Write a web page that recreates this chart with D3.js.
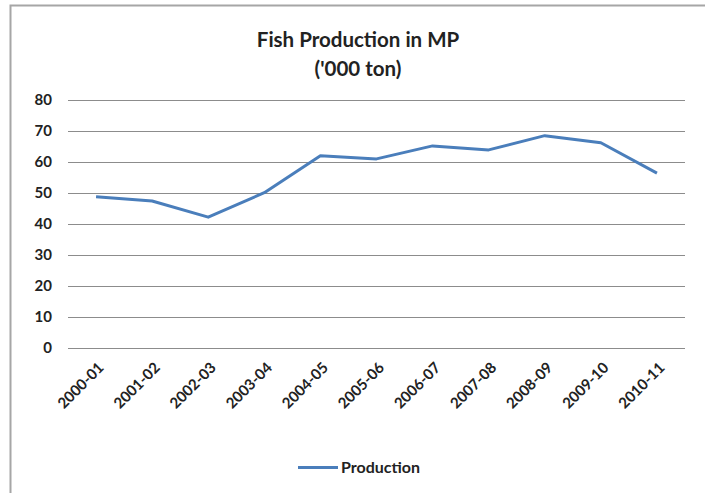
<html>
<head>
<script src='https://d3js.org/d3.v7.min.js'></script>
<style>
  body { margin: 0; background: #fff; }
  text { font-family: Lato, 'Open Sans', sans-serif; fill: #222; }
</style>
</head>
<body>
<svg width=705 height=493 id="chart"></svg>
<script>

// data
var years = ["2000-01","2001-02","2002-03","2003-04","2004-05","2005-06",
             "2006-07","2007-08","2008-09","2009-10","2010-11"];
var production = [48.8, 47.4, 42.2, 50.1, 62.0, 61.0, 65.2, 63.9, 68.5, 66.2, 56.4];
var yTicks = [0, 10, 20, 30, 40, 50, 60, 70, 80];
var seriesName = "Production";

var plotLeft = 68, plotRight = 685, plotTop = 100, plotBottom = 348;

var svg = d3.select("#chart");

// outer chart border (top + left only visible)
svg.append("path")
  .attr("d", "M10.5,493 L10.5,5.5 L705,5.5")
  .attr("fill", "none")
  .attr("stroke", "#a6a6a6")
  .attr("stroke-width", 2);

var x = d3.scaleBand().domain(years).range([plotLeft, plotRight]);
var y = d3.scaleLinear().domain([0, 80]).range([plotBottom, plotTop]);

// gridlines
svg.append("g")
  .selectAll("line")
  .data(yTicks)
  .enter()
  .append("line")
  .attr("x1", plotLeft)
  .attr("x2", plotRight)
  .attr("y1", function(d) { return Math.round(y(d)) + 0.5; })
  .attr("y2", function(d) { return Math.round(y(d)) + 0.5; })
  .attr("stroke", "#8c8c8c")
  .attr("stroke-width", 1);

// y axis labels
var yAxis = svg.append("g")
  .attr("transform", "translate(" + (plotLeft - 16) + ",0)")
  .call(d3.axisLeft(y).tickValues(yTicks).tickSize(0).tickPadding(0));
yAxis.select(".domain").remove();
yAxis.selectAll("text")
  .style("font-family", "Lato, sans-serif")
  .style("font-size", "15px")
  .style("font-weight", "bold")
  .attr("fill", "#222");

// x axis labels, rotated
var xAxis = svg.append("g")
  .attr("transform", "translate(0," + plotBottom + ")")
  .call(d3.axisBottom(x).tickSize(0).tickPadding(0));
xAxis.select(".domain").remove();
xAxis.selectAll("text")
  .style("font-family", "Lato, sans-serif")
  .style("font-size", "15px")
  .style("font-weight", "bold")
  .attr("fill", "#222")
  .attr("text-anchor", "end")
  .attr("dy", "0.35em")
  .attr("transform", "translate(5,17) rotate(-45)");

// the line
var line = d3.line()
  .x(function(d, i) { return x(years[i]) + x.bandwidth() / 2; })
  .y(function(d) { return y(d); });

svg.append("path")
  .datum(production)
  .attr("d", line)
  .attr("fill", "none")
  .attr("stroke", "#4a7ebb")
  .attr("stroke-width", 3)
  .attr("stroke-linejoin", "round");

// title
svg.append("text")
  .attr("x", 358).attr("y", 47)
  .attr("text-anchor", "middle")
  .style("font-size", "20.5px")
  .style("font-weight", "bold")
  .text("Fish Production in MP");
svg.append("text")
  .attr("x", 358).attr("y", 76)
  .attr("text-anchor", "middle")
  .style("font-size", "20.5px")
  .style("font-weight", "bold")
  .text("('000 ton)");

// legend
svg.append("line")
  .attr("x1", 298).attr("x2", 338)
  .attr("y1", 467.5).attr("y2", 467.5)
  .attr("stroke", "#4a7ebb")
  .attr("stroke-width", 3);
svg.append("text")
  .attr("x", 341).attr("y", 473)
  .style("font-size", "16px")
  .style("font-weight", "bold")
  .text(seriesName);

</script>
</body>
</html>
